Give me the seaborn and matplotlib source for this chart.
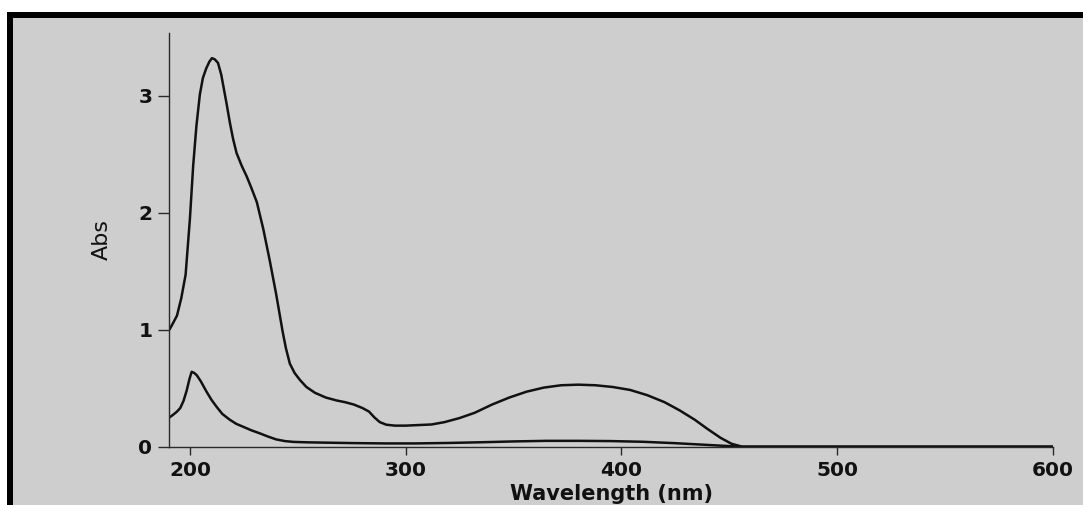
import numpy as np
import pandas as pd
import seaborn as sns
import matplotlib
matplotlib.use("Agg")
import matplotlib.pyplot as plt
from matplotlib.patches import Rectangle

# ---- data ----
wl_upper = [190.5, 192, 194, 196, 198, 200, 201.5, 203, 204.6, 206, 207.5, 209, 210.2,
            211.5, 213, 214.5, 215.5, 217, 218.5, 220, 221.6, 224, 226.3, 228.5, 231, 234,
            237, 240, 243, 244.5, 246.3, 248.5, 251, 254, 258, 263, 268, 272, 276, 280, 283,
            285.5, 288, 291, 295, 300, 306, 312, 318, 325, 332, 340, 348, 356, 364, 372, 380,
            388, 396, 404, 412, 420, 427, 434, 440, 446, 451, 456, 470, 500, 550, 600]
abs_upper = [1.00, 1.05, 1.12, 1.27, 1.47, 1.95, 2.40, 2.74, 3.01, 3.15, 3.23, 3.29, 3.32,
             3.31, 3.28, 3.18, 3.08, 2.93, 2.77, 2.63, 2.51, 2.40, 2.31, 2.21, 2.09, 1.86,
             1.59, 1.30, 0.98, 0.84, 0.71, 0.63, 0.57, 0.51, 0.46, 0.42, 0.395, 0.38, 0.36,
             0.33, 0.30, 0.25, 0.21, 0.188, 0.18, 0.18, 0.185, 0.19, 0.21, 0.245, 0.29, 0.36,
             0.42, 0.47, 0.505, 0.525, 0.53, 0.525, 0.51, 0.485, 0.44, 0.38, 0.31, 0.23, 0.15,
             0.075, 0.025, 0.0, 0.0, 0.0, 0.0, 0.0]

wl_lower = [190.5, 192, 194, 195.5, 197, 198.5, 199.8, 200.8, 202, 203.2, 205, 207.7, 210,
            212.4, 215, 218.5, 221.5, 224.7, 228.5, 232.4, 236, 240, 244, 248, 255, 265, 275,
            290, 305, 320, 335, 350, 365, 380, 395, 410, 425, 440, 455, 500, 600]
abs_lower = [0.25, 0.27, 0.30, 0.33, 0.39, 0.48, 0.58, 0.64, 0.63, 0.61, 0.56, 0.47, 0.40,
             0.34, 0.28, 0.23, 0.195, 0.17, 0.14, 0.114, 0.088, 0.062, 0.048, 0.041, 0.037,
             0.034, 0.031, 0.028, 0.028, 0.032, 0.038, 0.045, 0.05, 0.05, 0.048, 0.042, 0.03,
             0.015, 0.0, 0.0, 0.0]

x_ticks = [200, 300, 400, 500, 600]
y_ticks = [0, 1, 2, 3]
x_label = "Wavelength (nm)"
y_label = "Abs"

# ---- figure ----
sns.set_style("ticks")
plt.rcParams["font.family"] = ["DejaVu Sans"]

W, H = 1083, 505
fig = plt.figure(figsize=(W / 100, H / 100), dpi=100)
bg = "#cecece"
fig.patch.set_facecolor(bg)

# scan frame decoration (white margins + black bars)
fig.patches.append(Rectangle((0, (H - 12) / H), 1, 12 / H, transform=fig.transFigure,
                             facecolor="white", edgecolor="none", zorder=0))
fig.patches.append(Rectangle((0, 0), 7 / W, 1, transform=fig.transFigure,
                             facecolor="white", edgecolor="none", zorder=0))
fig.patches.append(Rectangle((7 / W, (H - 18) / H), 1, 6 / H, transform=fig.transFigure,
                             facecolor="black", edgecolor="none", zorder=1))
fig.patches.append(Rectangle((7 / W, 0), 6 / W, (H - 12) / H, transform=fig.transFigure,
                             facecolor="black", edgecolor="none", zorder=1))

ax = fig.add_axes([169 / W, (H - 446.7) / H, (1053 - 169) / W, (446.7 - 33) / H])
ax.set_facecolor("none")

df_u = pd.DataFrame({"wl": wl_upper, "A": abs_upper})
df_l = pd.DataFrame({"wl": wl_lower, "A": abs_lower})
sns.lineplot(data=df_u, x="wl", y="A", ax=ax, color="#111111", lw=1.8,
             estimator=None, sort=False)
sns.lineplot(data=df_l, x="wl", y="A", ax=ax, color="#111111", lw=1.8,
             estimator=None, sort=False)

ax.set_xlim(190.3, 600)
ax.set_ylim(0, 3.535)
ax.set_xticks(x_ticks)
ax.set_yticks(y_ticks)
ax.set_xticklabels([str(t) for t in x_ticks], fontsize=14.5, fontweight="bold", color="#111111")
ax.set_yticklabels([str(t) for t in y_ticks], fontsize=14.5, fontweight="bold", color="#111111")

for s in ["top", "right"]:
    ax.spines[s].set_visible(False)
for s in ["left", "bottom"]:
    ax.spines[s].set_color("#2a2a2a")
    ax.spines[s].set_linewidth(1.0)

ax.tick_params(axis="x", direction="out", length=6, width=1, color="#2a2a2a", pad=4)
ax.tick_params(axis="y", direction="out", length=8, width=1, color="#2a2a2a", pad=4)

ax.set_xlabel(x_label, fontsize=15, fontweight="bold", color="#111111", labelpad=3)
ax.set_ylabel(y_label, fontsize=16, color="#111111", labelpad=19)

fig.savefig("out.png", dpi=100, facecolor=fig.get_facecolor())
